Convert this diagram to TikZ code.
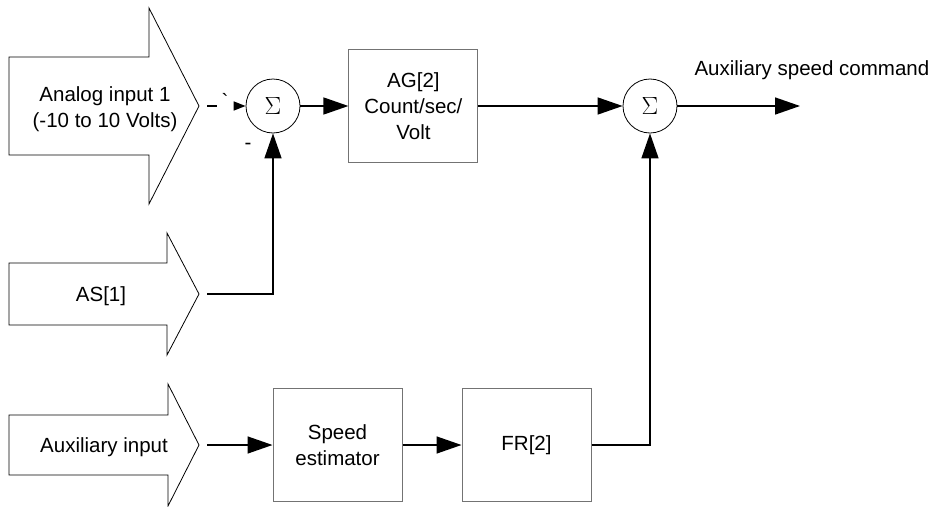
\documentclass[tikz,border=0pt]{standalone}
\usepackage{fontspec}
\setmainfont{Liberation Sans}
\usetikzlibrary{arrows.meta, positioning}

\begin{document}
\begin{tikzpicture}[x=1pt, y=-1pt,
        every node/.style={font=\fontsize{20.5}{26}\selectfont, align=center},
        inarrow/.style={draw, line width=0.8pt},
        block/.style={draw=black!55, line width=1pt, minimum width=129pt, minimum height=113pt, inner sep=0pt},
        sumnode/.style={draw, circle, line width=0.8pt, minimum size=54pt, inner sep=0pt, font=\fontsize{25}{26}\selectfont},
        link/.style={line width=1.5pt},
        conn/.style={line width=1.5pt, -{Triangle[length=25pt, width=17pt]}}]
            \useasboundingbox (0,0) rectangle (936,506);
            % big input arrows
            \draw[inarrow] (9,57) -- (149,57) -- (149,8) -- (199,106) -- (149,204) -- (149,155) -- (9,155) -- cycle;
            \draw[inarrow] (9,263) -- (167,263) -- (167,233) -- (199,294) -- (167,355) -- (167,325) -- (9,325) -- cycle;
            \draw[inarrow] (9,415) -- (168,415) -- (168,384) -- (199,445) -- (168,506) -- (168,475) -- (9,475) -- cycle;
            \node (ain) at (105,109) {Analog input 1\\(-10 to 10 Volts)};
            \node (asin) at (101,296) {AS[1]};
            \node (auxin) at (104,447) {Auxiliary input};
            \coordinate (ainOut) at (207,106);
            \coordinate (asOut) at (207,294);
            \coordinate (auxOut) at (207,445);

            % blocks
            \node[sumnode] (sum1) at (273,106) {$\Sigma$};
            \node[block, right=48pt of sum1] (ag) {AG[2]\\Count/sec/\\Volt};
            \node[sumnode] (sum2) at (650,106) {$\Sigma$};
            \node[block] (speed) at (337.5,445) {Speed\\estimator};
            \node[block, right=59pt of speed] (fr) {FR[2]};

            % connections
            \coordinate (dashEnd) at (217,106);
            \coordinate (headStart) at (235,106);
            \draw[link] (ainOut) -- (dashEnd);
            \node (tick) at (225,101) {\textasciigrave};
            \draw[link, -{Triangle[length=12pt, width=9pt]}] (headStart) -- (sum1.west);
            \node (minus) at (248,146) {-};
            \draw[conn] (asOut) -| (sum1.south);
            \draw[conn] (sum1) -- (ag);
            \draw[conn] (ag) -- (sum2);
            \coordinate (out) at (800,106);
            \draw[conn] (sum2.east) -- (out);
            \node[anchor=west] (cmd) at (691,70) {Auxiliary speed command};
            \draw[conn] (auxOut) -- (speed.west);
            \draw[conn] (speed) -- (fr);
            \draw[conn] (fr.east) -| (sum2.south);
        \end{tikzpicture}
\end{document}
